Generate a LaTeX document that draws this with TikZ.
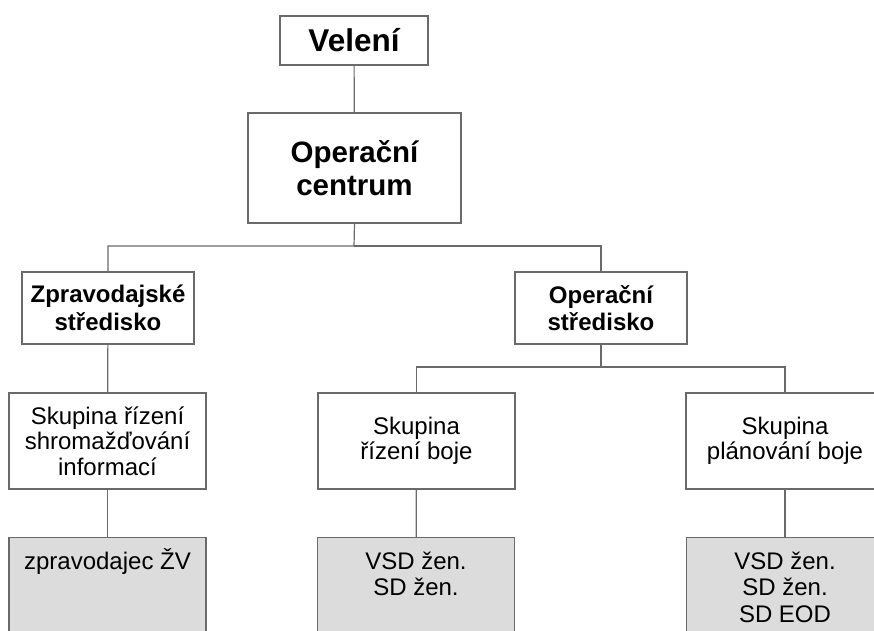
\documentclass[tikz,border=0pt]{standalone}
\usepackage{fontspec}
\setmainfont{Liberation Sans}
\usepackage{tikz}
\usetikzlibrary{positioning,calc}
\definecolor{linegray}{HTML}{6A6A6A}
\definecolor{fillgray}{HTML}{DCDCDC}

\begin{document}
\begin{tikzpicture}[x=1pt,y=-1pt,
    box/.style={draw=linegray,line width=1.2pt,fill=white,align=center,inner sep=0pt},
    graybox/.style={draw=linegray,line width=1.2pt,fill=fillgray,anchor=north,minimum width=197pt,minimum height=110pt},
    graytext/.style={anchor=north,align=center,inner sep=0pt,font=\fontsize{24}{26.5}\selectfont},
    conn/.style={draw=linegray,line width=1.2pt}]
    \useasboundingbox (0,0) rectangle (874,630);

    % top of the chart
    \node[box,minimum width=148pt,minimum height=49pt,font=\bfseries\fontsize{31.5}{33}\selectfont] (veleni) at (354,40.5) {Velení};
    \node[box,minimum width=213pt,minimum height=110pt,font=\bfseries\fontsize{29.5}{33}\selectfont] (oc) at (354.5,168) {Operační\\centrum};

    % strediska
    \node[box,minimum width=172pt,minimum height=72pt,font=\bfseries\fontsize{24}{27.5}\selectfont] (zs) at (108,308) {Zpravodajské\\středisko};
    \node[box,minimum width=172pt,minimum height=72pt,font=\bfseries\fontsize{24}{27.5}\selectfont] (os) at (601,308) {Operační\\středisko};

    % skupiny
    \node[box,minimum width=197pt,minimum height=96pt,font=\fontsize{24}{25.5}\selectfont] (shrom) at (107.5,441) {Skupina řízení\\shromažďování\\informací};
    \node[box,minimum width=197pt,minimum height=96pt,font=\fontsize{24}{25.5}\selectfont] (rizeni) at (416.5,441) {Skupina\\řízení boje};
    \node[box,minimum width=198pt,minimum height=96pt,font=\fontsize{24}{25.5}\selectfont] (plan) at (785,441) {Skupina\\plánování boje};

    % gray boxes at the bottom
    \node[graybox] (zv) at (107.5,537) {};
    \node[graybox] (bojesd) at (416,537) {};
    \node[graybox] (plansd) at (785,537) {};
    \node[graytext] (zvt) at ($(zv.north)+(0,11)$) {zpravodajec ŽV};
    \node[graytext] (bojesdt) at ($(bojesd.north)+(0,11)$) {\vphantom{Ž}VSD žen.\\SD žen.};
    \node[graytext] (plansdt) at ($(plansd.north)+(0,11)$) {\vphantom{Ž}VSD žen.\\SD žen.\\SD EOD};

    % connectors
    \coordinate (ocfork) at (354,246);
    \coordinate (osfork) at (601,367);
    \draw[conn] (veleni) -- (oc);
    \draw[conn] (oc.south) -- (ocfork) -| (zs.north);
    \draw[conn] (ocfork) -| (os.north);
    \draw[conn] (zs) -- (shrom);
    \draw[conn] (os.south) -- (osfork) -| (rizeni.north);
    \draw[conn] (osfork) -| (plan.north);
    \draw[conn] (shrom) -- (zv);
    \draw[conn] (rizeni) -- (bojesd);
    \draw[conn] (plan) -- (plansd);
\end{tikzpicture}
\end{document}
